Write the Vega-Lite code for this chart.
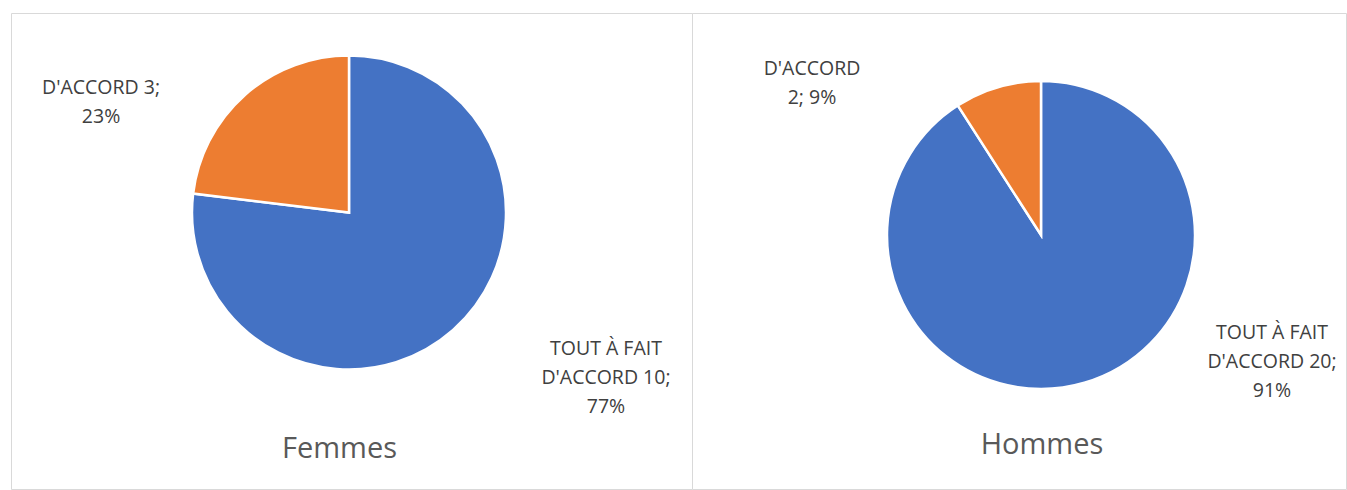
{
  "$schema": "https://vega.github.io/schema/vega-lite/v6.json",
  "padding": {"left": 10, "top": 12, "right": 1, "bottom": 1},
  "background": "white",
  "spacing": 0,
  "bounds": "flush",
  "config": {
    "view": {"stroke": "#D9D9D9", "strokeWidth": 1},
    "concat": {"spacing": 0},
    "text": {"font": "Open Sans", "fontSize": 19.5, "lineHeight": 29, "align": "center", "baseline": "middle"}
  },
  "datasets": {
    "femmes": [
      {"categorie": "TOUT À FAIT D'ACCORD", "n": 10, "pct": 77, "etiquette": ["TOUT À FAIT", "D'ACCORD 10;", "77%"]},
      {"categorie": "D'ACCORD", "n": 3, "pct": 23, "etiquette": ["D'ACCORD 3;", "23%"]}
    ],
    "hommes": [
      {"categorie": "TOUT À FAIT D'ACCORD", "n": 20, "pct": 91, "etiquette": ["TOUT À FAIT", "D'ACCORD 20;", "91%"]},
      {"categorie": "D'ACCORD", "n": 2, "pct": 9, "etiquette": ["D'ACCORD", "2; 9%"]}
    ]
  },
  "hconcat": [
    {
      "width": 681,
      "height": 476,
      "view": {"stroke": "#D9D9D9", "strokeWidth": 1, "fill": "white"},
      "data": {"name": "femmes"},
      "title": {"text": "Femmes", "orient": "bottom", "offset": -31, "baseline": "alphabetic", "dx": -12, "fontSize": 29, "font": "Open Sans", "fontWeight": "normal", "color": "#595959"},
      "encoding": {
        "theta": {"field": "n", "type": "quantitative", "stack": true},
        "order": {"field": "n", "type": "quantitative", "sort": "descending"},
        "color": {"field": "categorie", "type": "nominal", "scale": {"domain": ["TOUT À FAIT D'ACCORD", "D'ACCORD"], "range": ["#4472C4", "#ED7D31"]}, "legend": null}
      },
      "layer": [
        {"mark": {"type": "arc", "x": 338, "y": 199.5, "outerRadius": 157, "stroke": "white", "strokeWidth": 2.5}},
        {
          "mark": {
            "type": "text", "x": 338, "y": 199.5, "radius": 180,
            "dx": {"expr": "datum.n < 5 ? -128.6 : 137.6"},
            "dy": {"expr": "datum.n < 5 ? 10.2 : 1.3"}
          },
          "encoding": {
            "detail": {"field": "categorie", "type": "nominal"},
            "color": {"value": "#404040"},
            "text": {"field": "etiquette"}
          }
        }
      ]
    },
    {
      "width": 654,
      "height": 476,
      "view": {"stroke": "#D9D9D9", "strokeWidth": 1, "fill": "white"},
      "data": {"name": "hommes"},
      "title": {"text": "Hommes", "orient": "bottom", "offset": -35, "baseline": "alphabetic", "dx": 23, "fontSize": 29, "font": "Open Sans", "fontWeight": "normal", "color": "#595959"},
      "encoding": {
        "theta": {"field": "n", "type": "quantitative", "stack": true},
        "order": {"field": "n", "type": "quantitative", "sort": "descending"},
        "color": {"field": "categorie", "type": "nominal", "scale": {"domain": ["TOUT À FAIT D'ACCORD", "D'ACCORD"], "range": ["#4472C4", "#ED7D31"]}, "legend": null}
      },
      "layer": [
        {"mark": {"type": "arc", "x": 349, "y": 222, "outerRadius": 154, "stroke": "white", "strokeWidth": 2.5}},
        {
          "mark": {
            "type": "text", "x": 349, "y": 222, "radius": 175,
            "dx": {"expr": "datum.n < 5 ? -179.7 : 181.7"},
            "dy": {"expr": "datum.n < 5 ? 2.4 : -70.4"}
          },
          "encoding": {
            "detail": {"field": "categorie", "type": "nominal"},
            "color": {"value": "#404040"},
            "text": {"field": "etiquette"}
          }
        }
      ]
    }
  ]
}
